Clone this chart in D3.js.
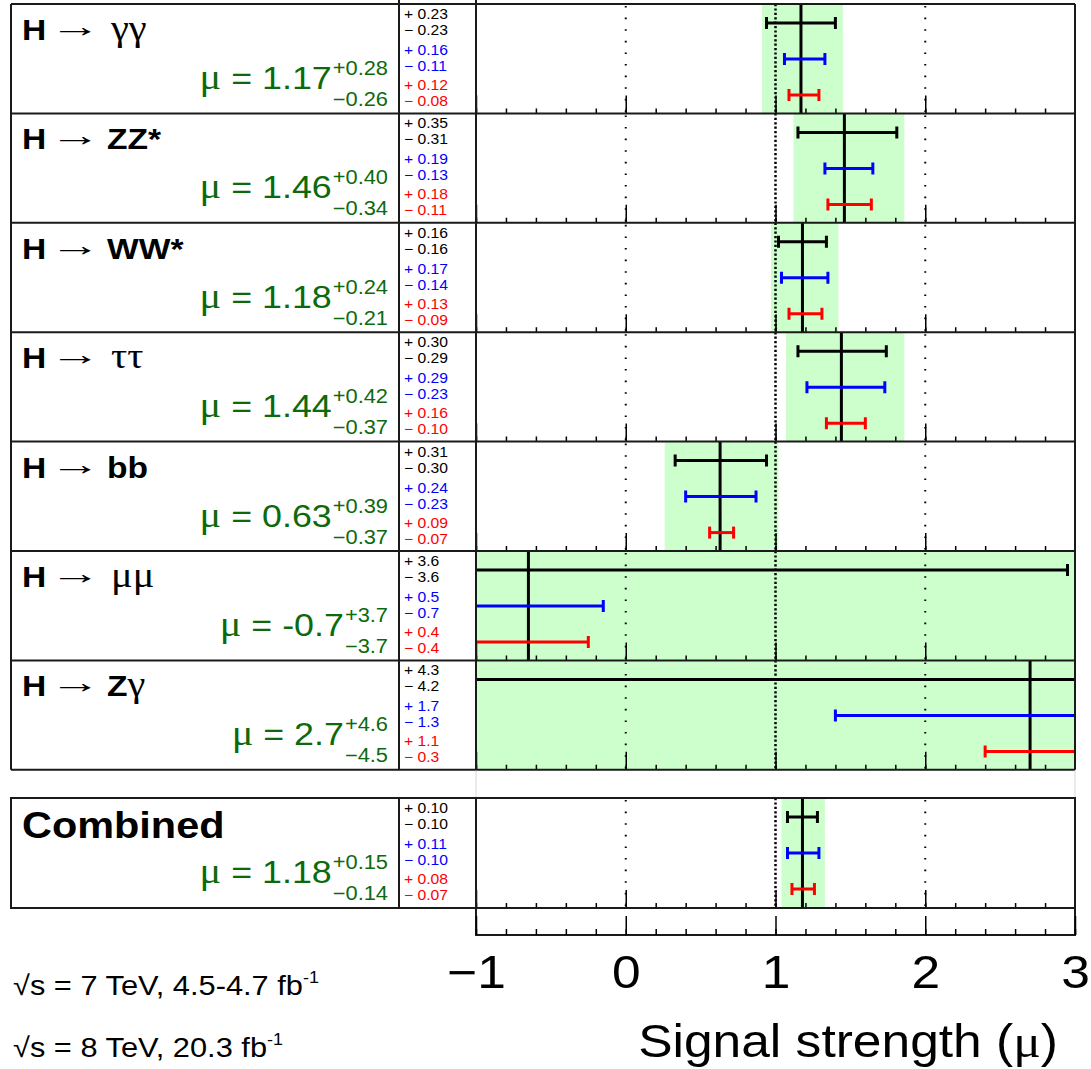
<!DOCTYPE html>
<html>
<head>
<meta charset="utf-8">
<script src="https://cdn.jsdelivr.net/npm/d3@7"></script>
<style>
body { margin: 0; background: #fff; }
</style>
</head>
<body>
<div id="chart"></div>
<script>
// one entry per row, top to bottom; the last one is the combined result
var decays = ["γγ", "ZZ*", "WW*", "ττ", "bb", "μμ", "Zγ", "Combined"];
var muValues = [1.17, 1.46, 1.18, 1.44, 0.63, -0.65, 2.70, 1.18];
var muLabels = ["1.17", "1.46", "1.18", "1.44", "0.63", "-0.7", "2.7", "1.18"];
var totalUp = ["0.28", "0.40", "0.24", "0.42", "0.39", "3.7", "4.6", "0.15"];
var totalDown = ["0.26", "0.34", "0.21", "0.37", "0.37", "3.7", "4.5", "0.14"];
var statUp = ["0.23", "0.35", "0.16", "0.30", "0.31", "3.6", "4.3", "0.10"];
var statDown = ["0.23", "0.31", "0.16", "0.29", "0.30", "3.6", "4.2", "0.10"];
var systUp = ["0.16", "0.19", "0.17", "0.29", "0.24", "0.5", "1.7", "0.11"];
var systDown = ["0.11", "0.13", "0.14", "0.23", "0.23", "0.7", "1.3", "0.10"];
var theoUp = ["0.12", "0.18", "0.13", "0.16", "0.09", "0.4", "1.1", "0.08"];
var theoDown = ["0.08", "0.11", "0.09", "0.10", "0.07", "0.4", "0.3", "0.07"];

var majorTicks = [-1, 0, 1, 2, 3];
var gridLines = [0, 2];
var smLine = 1;

var SANS = "'Liberation Sans', Arial, Helvetica, sans-serif";
var SERIF = "'Liberation Serif', 'Times New Roman', serif";
var GREEN = "#0c6a0c";
var SX = 1.12; // text in the original is drawn a bit wide

var svgWidth = 1091, svgHeight = 1069;
var xLeft = 11, xMid = 399, xPlot = 476, xRight = 1075;
var rowH = 109.4, topY = 4, combTop = 798, combH = 110;

var svg = d3.select("#chart").append("svg")
  .attr("width", svgWidth)
  .attr("height", svgHeight);

var x = d3.scaleLinear().domain([-1, 3]).range([xPlot, xRight]);

function stext(parent, px, py, sx) {
  return parent.append("text")
    .attr("transform", `translate(${px},${py}) scale(${sx || SX},1)`)
    .attr("font-family", SANS);
}

var barSets = [
  {up: statUp, down: statDown, color: "#000", y: 19},
  {up: systUp, down: systDown, color: "#0000ff", y: 55},
  {up: theoUp, down: theoDown, color: "#ff0000", y: 91}
];

decays.forEach(function(name, i) {
  var top = i < 7 ? topY + i * rowH : combTop;
  var h = i < 7 ? rowH : combH;
  var mu = muValues[i];
  var g = svg.append("g").attr("transform", `translate(0,${top})`);

  svg.append("clipPath").attr("id", "clip" + i)
    .append("rect")
    .attr("x", xPlot).attr("y", 0)
    .attr("width", xRight - xPlot).attr("height", h);

  var pg = g.append("g").attr("clip-path", `url(#clip${i})`);

  // total uncertainty band
  pg.append("rect")
    .attr("x", x(mu - +totalDown[i]))
    .attr("width", x(mu + +totalUp[i]) - x(mu - +totalDown[i]))
    .attr("y", 0).attr("height", h)
    .attr("fill", "#ccffcc");

  pg.selectAll(".grid").data(gridLines).enter().append("line")
    .attr("x1", d => x(d)).attr("x2", d => x(d))
    .attr("y1", 2).attr("y2", h)
    .attr("stroke", "#000").attr("stroke-width", 2)
    .attr("stroke-dasharray", "1.6,10");

  pg.append("line")
    .attr("x1", x(smLine)).attr("x2", x(smLine))
    .attr("y1", 0).attr("y2", h)
    .attr("stroke", "#000").attr("stroke-width", 2.5)
    .attr("stroke-dasharray", "2.2,2.2");

  // ticks on the bottom edge of each row
  pg.append("g").attr("transform", `translate(0,${h})`)
    .call(d3.axisTop(x).tickValues(x.ticks(20)).tickSize(5).tickFormat(""))
    .call(a => a.select(".domain").remove())
    .selectAll("line").attr("stroke-width", 1.5);
  pg.append("g").attr("transform", `translate(0,${h})`)
    .call(d3.axisTop(x).tickValues(majorTicks).tickSize(18).tickFormat(""))
    .call(a => a.select(".domain").remove())
    .selectAll("line").attr("stroke-width", 1.5);

  // central value
  pg.append("line")
    .attr("x1", x(mu)).attr("x2", x(mu))
    .attr("y1", 0).attr("y2", h)
    .attr("stroke", "#000").attr("stroke-width", 3);

  barSets.forEach(function(b) {
    var lo = x(mu - +b.down[i]), hi = x(mu + +b.up[i]);
    pg.append("line")
      .attr("x1", lo).attr("x2", hi)
      .attr("y1", b.y).attr("y2", b.y)
      .attr("stroke", b.color).attr("stroke-width", 3);
    [lo, hi].forEach(function(cx) {
      pg.append("line")
        .attr("x1", cx).attr("x2", cx)
        .attr("y1", b.y - 6).attr("y2", b.y + 6)
        .attr("stroke", b.color).attr("stroke-width", 3);
    });
  });

  // numbers column
  var lines = [
    ["+ " + statUp[i], "#000", 15], ["− " + statDown[i], "#000", 31],
    ["+ " + systUp[i], "#0000ff", 51], ["− " + systDown[i], "#0000ff", 67],
    ["+ " + theoUp[i], "#ff0000", 86], ["− " + theoDown[i], "#ff0000", 102]
  ];
  lines.forEach(function(l) {
    stext(g, 404, l[2]).attr("font-size", 14).attr("fill", l[1]).text(l[0]);
  });

  // channel title
  if (i === 7) {
    stext(g, 22, 40).attr("font-size", 37).attr("font-weight", "bold").text(name);
  } else {
    stext(g, 22, 36).attr("font-size", 30).attr("font-weight", "bold").text("H");
    stext(g, 50, 33, 1.65).attr("font-size", 31).attr("font-family", SERIF).text("→");
    var greekFirst = /[α-ω]/.test(name[0]);
    var t = stext(g, greekFirst ? 111 : 107, 36).attr("font-size", 30);
    name.split("").forEach(function(c) {
      var greek = /[α-ω]/.test(c);
      t.append("tspan")
        .attr("font-family", greek ? SERIF : SANS)
        .attr("font-weight", greek ? "normal" : "bold")
        .attr("font-size", greek ? 36 : 30)
        .text(c);
    });
  }

  // mu = value with total uncertainty
  var sup = stext(g, 0, 71).attr("font-size", 19.5).attr("fill", GREEN).text("+" + totalUp[i]);
  var sub = stext(g, 0, 102).attr("font-size", 19.5).attr("fill", GREEN).text("−" + totalDown[i]);
  var w = Math.max(sup.node().getComputedTextLength(), sub.node().getComputedTextLength()) * SX;
  var sx0 = 388 - w;
  sup.attr("transform", `translate(${sx0},71) scale(${SX},1)`);
  sub.attr("transform", `translate(${sx0},102) scale(${SX},1)`);
  var main = stext(g, sx0 - 1, 85).attr("font-size", 32).attr("fill", GREEN).attr("text-anchor", "end");
  main.append("tspan").attr("font-family", SERIF).attr("font-size", 36).text("μ");
  main.append("tspan").text(" = " + muLabels[i]);
});

// frame lines
var frame = svg.append("g").attr("stroke", "#1a1a1a").attr("stroke-width", 2).attr("fill", "none");
d3.range(8).forEach(function(k) {
  frame.append("line").attr("x1", xLeft).attr("x2", xRight)
    .attr("y1", topY + k * rowH).attr("y2", topY + k * rowH);
});
var bottomRows = topY + 7 * rowH;
frame.append("line").attr("x1", xLeft).attr("x2", xLeft).attr("y1", topY).attr("y2", bottomRows);
frame.append("line").attr("x1", xMid).attr("x2", xMid).attr("y1", 0).attr("y2", bottomRows);
frame.append("line").attr("x1", xPlot).attr("x2", xPlot).attr("y1", 0).attr("y2", bottomRows);
frame.append("line").attr("x1", xRight).attr("x2", xRight).attr("y1", topY).attr("y2", bottomRows);

frame.append("rect").attr("x", xLeft).attr("y", combTop)
  .attr("width", xRight - xLeft).attr("height", combH);
frame.append("line").attr("x1", xMid).attr("x2", xMid).attr("y1", combTop).attr("y2", combTop + combH);
frame.append("line").attr("x1", xPlot).attr("x2", xPlot).attr("y1", combTop).attr("y2", combTop + combH);

svg.append("line").attr("x1", xPlot).attr("x2", xPlot).attr("y1", bottomRows + 1).attr("y2", combTop - 1)
  .attr("stroke", "#e4e4e4").attr("stroke-width", 1.5);
svg.append("line").attr("x1", xRight).attr("x2", xRight).attr("y1", bottomRows + 1).attr("y2", combTop - 1)
  .attr("stroke", "#e4e4e4").attr("stroke-width", 1.5);

// axis box
var axTop = combTop + combH, axBottom = 935;
frame.append("rect").attr("x", xPlot).attr("y", axTop)
  .attr("width", xRight - xPlot).attr("height", axBottom - axTop);

svg.append("g").attr("transform", `translate(0,${axBottom})`)
  .call(d3.axisTop(x).tickValues(x.ticks(20)).tickSize(6).tickFormat(""))
  .call(a => a.select(".domain").remove())
  .selectAll("line").attr("stroke-width", 1.5);

var xAxis = svg.append("g").attr("transform", `translate(0,${axBottom})`)
  .call(d3.axisTop(x).tickValues(majorTicks).tickSize(19).tickFormat(d3.format("d")))
  .call(a => a.select(".domain").remove());
xAxis.selectAll("line").attr("stroke-width", 1.5);
xAxis.selectAll("text")
  .attr("y", 53).attr("dy", 0)
  .attr("transform", `scale(${SX},1)`)
  .attr("font-family", SANS).attr("font-size", 46)
  .attr("fill", "#000");

var xt = stext(svg, 1058, 1057).attr("font-size", 46).attr("text-anchor", "end");
xt.append("tspan").text("Signal strength (");
xt.append("tspan").attr("font-family", SERIF).text("μ");
xt.append("tspan").text(")");

// energy and luminosity labels
var lumiLines = [["7", "4.5-4.7", 995], ["8", "20.3", 1057]];
lumiLines.forEach(function(l) {
  var t = stext(svg, 13, l[2]).attr("font-size", 27.5);
  t.append("tspan").text("√s = " + l[0] + " TeV, " + l[1] + " fb");
  t.append("tspan").attr("font-size", 16).attr("dy", -12).text("-1");
});
</script>
</body>
</html>
